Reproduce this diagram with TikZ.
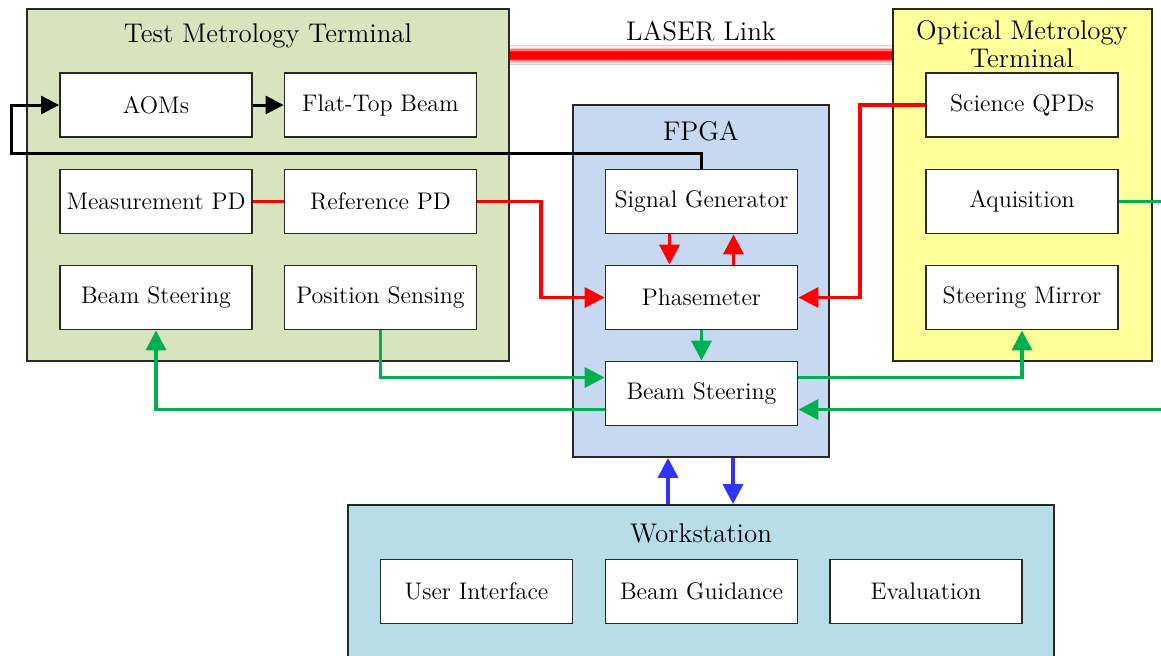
\documentclass[tikz,border=0pt]{standalone}
\usetikzlibrary{arrows.meta,calc}
\definecolor{tmtc}{RGB}{215,228,189}
\definecolor{fpgac}{RGB}{198,217,240}
\definecolor{omtc}{RGB}{255,255,153}
\definecolor{wsc}{RGB}{183,222,232}
\definecolor{bordc}{RGB}{40,40,40}
\definecolor{gr}{RGB}{0,176,80}
\definecolor{bl}{RGB}{51,51,255}
\definecolor{rd}{RGB}{255,0,0}
\begin{document}
\begin{tikzpicture}[x=0.5pt,y=-0.5pt,
  inbox/.style={draw=bordc,line width=0.9pt,fill=white,minimum width=96pt,minimum height=32pt,inner sep=0pt,font=\fontsize{12}{14}\selectfont},
  cont/.style={draw=bordc,line width=0.9pt,inner sep=0pt},
  ttl/.style={font=\fontsize{13.5}{15}\selectfont,inner sep=0pt,align=center},
  conn/.style={line width=1.8pt},
  arr/.style={conn,-{Triangle[length=10pt,width=10pt]}},
  redl/.style={draw=rd},
  grl/.style={draw=gr},
  bll/.style={draw=bl},
  blkl/.style={draw=black,line width=1.5pt,-{Triangle[length=9pt,width=9pt]}}
]
\useasboundingbox (0,0) rectangle (1161,655);
% containers
\node[cont,fill=tmtc,minimum width=241pt,minimum height=176pt] (TMT) at (268,185) {};
\node[cont,fill=omtc,minimum width=129.5pt,minimum height=176pt] (OMT) at (1022.5,185) {};
\node[cont,fill=fpgac,minimum width=128pt,minimum height=176pt] (FPGA) at (701,281) {};
\node[cont,fill=wsc,minimum width=353pt,minimum height=80pt] (WS) at (701,585) {};
% titles
\node[ttl] (tTMT) at (268,36) {Test Metrology Terminal};
\node[ttl] (tOMT) at (1022,44) {Optical Metrology\\[-1pt]Terminal};
\node[ttl] (tFPGA) at (701,131) {FPGA};
\node[ttl] (tWS) at (701,533) {Workstation};
\node[ttl] (tLL) at (701,31) {LASER Link};
% inner boxes
\node[inbox] (AOM) at (156,105) {AOMs};
\node[inbox] (FTB) at (380.5,105) {Flat-Top Beam};
\node[inbox] (MPD) at (156,201.5) {Measurement PD};
\node[inbox] (RPD) at (380.5,201.5) {Reference PD};
\node[inbox] (BSL) at (156,297.5) {Beam Steering};
\node[inbox] (PS) at (380.5,297.5) {Position Sensing};
\node[inbox] (SG) at (701.5,201.5) {Signal Generator};
\node[inbox] (PM) at (701.5,297.5) {Phasemeter};
\node[inbox] (BSF) at (701.5,393.5) {Beam Steering};
\node[inbox] (SQ) at (1022,105) {Science QPDs};
\node[inbox] (AQ) at (1022,201.5) {Aquisition};
\node[inbox] (SM) at (1022,297.5) {Steering Mirror};
\node[inbox] (UI) at (476.5,591.5) {User Interface};
\node[inbox] (BG) at (701.5,591.5) {Beam Guidance};
\node[inbox] (EV) at (926,591.5) {Evaluation};
% coordinates
\coordinate (ll) at (700,55);
\coordinate (b1) at (11,153);
\coordinate (r1) at (541,201.5);
\coordinate (r2) at (860,105);
\coordinate (g1) at (1165,201.5);
\coordinate (g2) at (1165,409.5);
% laser link
\foreach \w/\c in {10pt/black!18,9pt/red!6,7.5pt/red!25,6pt/red!55,4.5pt/red!85,3.5pt/rd}
  \draw[line width=\w,draw=\c] (TMT.east |- ll) -- (OMT.west |- ll);
% black loop
\draw[blkl] (SG.north) |- (b1) |- (AOM.west);
\draw[blkl] (AOM.east) -- (FTB.west);
% red
\draw[conn,redl] (MPD.east) -- (RPD.west);
\draw[arr,redl] (RPD.east) -- (r1) |- (PM.west);
\draw[arr,redl] (SQ.west) -- (r2) |- (PM.east);
\draw[arr,redl] ([xshift=-16pt]SG.south) -- ([xshift=-16pt]PM.north);
\draw[arr,redl] ([xshift=16pt]PM.north) -- ([xshift=16pt]SG.south);
% green
\draw[arr,grl] (PM.south) -- (BSF.north);
\draw[arr,grl] (PS.south) |- ([yshift=8pt]BSF.west);
\draw[arr,grl] ([yshift=-8pt]BSF.west) -| (BSL.south);
\draw[arr,grl] ([yshift=8pt]BSF.east) -| (SM.south);
\draw[arr,grl] (g2) -- (g2 -| BSF.east);
\draw[conn,grl] (AQ.east) -- (g1);
% blue
\draw[arr,bll] ([xshift=-16.5pt]WS.north) -- ([xshift=-16.5pt]FPGA.south);
\draw[arr,bll] ([xshift=16pt]FPGA.south) -- ([xshift=16pt]WS.north);
\end{tikzpicture}
\end{document}
